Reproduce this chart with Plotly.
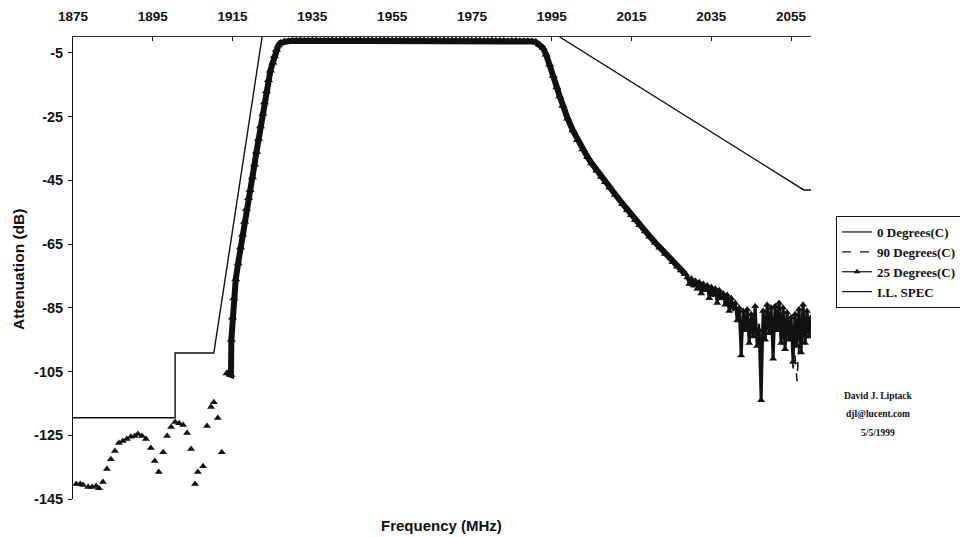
import plotly.graph_objects as go

# ---------------- data ----------------
# x-axis ticks (MHz) and y-axis ticks (dB)
x_ticks = [1875, 1895, 1915, 1935, 1955, 1975, 1995, 2015, 2035, 2055]
y_ticks = [-145, -125, -105, -85, -65, -45, -25, -5]

# I.L. SPEC mask (two segments)
spec_lo_f = [1875.0, 1900.6, 1900.6, 1910.3, 1922.4]
spec_lo_v = [-119.5, -119.5, -99.2, -99.2, 0.0]
spec_hi_f = [1997.0, 2058.2, 2060.0]
spec_hi_v = [0.0, -48.0, -48.0]

# 25 Degrees(C) stop-band points (markers only)
stop_f = [1875.8, 1876.8, 1877.5, 1878.8, 1879.8, 1880.8, 1881.5, 1882.5, 1883.5, 1884.5,
          1885.5, 1886.5, 1887.5, 1888.5, 1889.5, 1890.5, 1891.3, 1892.3, 1893.3, 1894.5,
          1895.5, 1896.5, 1897.6, 1898.6, 1899.6, 1900.6, 1901.6, 1902.6, 1903.6, 1904.6,
          1905.6, 1906.3, 1907.6, 1908.6, 1909.6, 1910.3, 1911.3, 1912.3]
stop_v = [-140.3, -140.3, -140.6, -141.2, -141.2, -140.9, -141.6, -139.7, -135.6, -132.5,
          -129.9, -127.4, -126.8, -126.2, -125.5, -125.2, -124.6, -125.2, -126.2, -129.0,
          -133.1, -136.5, -130.3, -125.2, -122.4, -120.8, -121.2, -121.8, -124.3, -129.3,
          -140.3, -136.5, -134.7, -122.1, -116.1, -114.6, -119.6, -130.3]

# rising edge
rise_f = [1913.6, 1914.6, 1914.7, 1915.0, 1915.3, 1915.8, 1916.4, 1917.0, 1917.5, 1918.0,
          1918.5, 1919.0, 1919.4, 1920.0, 1920.5, 1921.0, 1921.5, 1922.0, 1922.6, 1923.0,
          1923.5, 1924.0, 1924.5, 1925.1, 1925.5, 1926.0, 1926.5, 1927.0, 1928.0]
rise_v = [-105.5, -106.0, -95.0, -88.0, -82.0, -76.0, -71.0, -66.0, -62.0, -58.0,
          -54.0, -50.5, -48.0, -44.0, -40.0, -36.0, -32.0, -28.0, -24.0, -20.5,
          -17.0, -13.5, -10.5, -8.0, -6.0, -4.0, -2.6, -1.9, -1.4]

# pass band (1929 .. 1990 MHz, 1 MHz steps)
pass_f = list(range(1929, 1991))
pass_v = [-1.3, -1.2, -1.2, -1.1, -1.2, -1.2, -1.1, -1.1, -1.2, -1.1,
          -1.1, -1.0, -1.1, -1.1, -1.0, -1.1, -1.1, -1.0, -1.0, -1.1,
          -1.0, -1.0, -1.1, -1.0, -1.0, -1.0, -1.1, -1.0, -1.0, -1.0,
          -1.0, -1.1, -1.0, -1.0, -1.0, -1.1, -1.0, -1.0, -1.1, -1.0,
          -1.1, -1.1, -1.0, -1.1, -1.1, -1.1, -1.2, -1.1, -1.1, -1.2,
          -1.2, -1.1, -1.2, -1.2, -1.2, -1.3, -1.2, -1.2, -1.3, -1.3,
          -1.3, -1.4]

# falling edge
fall_f = [1991.0, 1992.0, 1992.8, 1993.6, 1994.5, 1995.4, 1996.3, 1997.0, 1997.8, 1999.0,
          2000.3, 2001.5, 2002.8, 2004.0, 2005.0, 2006.3, 2007.5, 2008.5, 2009.6, 2011.0,
          2012.8, 2014.0, 2015.0, 2016.0, 2017.1, 2018.5, 2019.6, 2021.0, 2022.1, 2023.5,
          2025.4, 2026.5, 2027.5, 2028.5]
fall_v = [-1.6, -2.4, -3.4, -5.5, -8.6, -12.2, -15.8, -18.6, -21.6, -25.6,
          -29.3, -32.3, -35.2, -37.7, -39.6, -41.9, -43.9, -45.5, -47.2, -49.5,
          -52.4, -54.3, -55.9, -57.4, -59.0, -61.0, -62.6, -64.6, -66.1, -68.0,
          -70.6, -72.0, -73.2, -74.4]

# noisy tail (2029 .. 2060 MHz, 0.5 MHz steps)
tail_f = [2029.0 + 0.5 * i for i in range(63)]
tail25_v = [-75.5, -77.5, -75.8, -78.0, -76.5, -79.0, -77.0, -80.5, -77.5, -79.5,
            -78.0, -82.0, -78.5, -81.0, -79.0, -83.5, -79.5, -82.0, -80.5, -84.0,
            -81.0, -86.0, -82.0, -85.0, -83.5, -89.0, -85.0, -100.0, -86.0, -92.0,
            -85.5, -96.0, -87.0, -94.0, -84.5, -97.0, -92.0, -114.0, -86.0, -95.0,
            -84.0, -93.0, -85.0, -101.0, -84.5, -92.0, -83.5, -96.0, -85.0, -98.0,
            -86.5, -95.0, -88.0, -102.0, -87.0, -97.0, -85.5, -99.0, -84.0, -96.0,
            -86.0, -94.0, -88.0]
tail0_v = [-76.0, -77.0, -76.5, -78.5, -77.0, -78.5, -77.5, -80.0, -78.0, -79.0,
           -78.5, -81.5, -79.0, -80.5, -79.5, -82.5, -80.0, -82.5, -81.0, -83.5,
           -81.5, -85.0, -82.5, -86.0, -84.0, -88.0, -85.5, -94.0, -86.5, -91.0,
           -86.0, -95.0, -87.5, -93.0, -85.0, -96.0, -90.0, -108.0, -86.5, -94.0,
           -84.5, -92.0, -85.5, -99.0, -85.0, -91.0, -84.0, -95.0, -85.5, -97.0,
           -87.0, -94.0, -88.5, -100.0, -87.5, -96.0, -86.0, -98.0, -84.5, -95.0,
           -86.5, -93.0, -88.5]
tail90_v = [-75.0, -78.0, -76.0, -78.5, -76.5, -79.5, -77.5, -80.0, -78.0, -80.0,
            -78.5, -81.0, -79.0, -81.5, -79.5, -83.0, -80.0, -82.5, -81.0, -84.5,
            -81.5, -85.5, -82.5, -85.5, -83.0, -88.5, -85.5, -97.0, -86.0, -92.5,
            -85.0, -95.5, -87.0, -94.5, -85.0, -97.5, -91.0, -110.0, -86.5, -95.5,
            -84.5, -93.5, -85.5, -100.0, -84.5, -92.5, -84.0, -96.5, -85.5, -98.5,
            -87.0, -95.5, -88.0, -104.0, -100.0, -108.0, -95.0, -99.5, -85.0, -96.5,
            -86.5, -94.5, -88.0]

# ---------------- figure ----------------
main_f = rise_f + pass_f + fall_f
main_v = rise_v + pass_v + fall_v
BLACK = "#111111"

fig = go.Figure()

# I.L. SPEC
fig.add_trace(go.Scatter(x=spec_lo_f + [None] + spec_hi_f, y=spec_lo_v + [None] + spec_hi_v,
                         mode="lines", line=dict(color=BLACK, width=1.4),
                         showlegend=False, hoverinfo="skip"))
# 0 Degrees(C)
fig.add_trace(go.Scatter(x=main_f + tail_f, y=main_v + tail0_v, mode="lines",
                         line=dict(color=BLACK, width=2), showlegend=False))
# 90 Degrees(C)
fig.add_trace(go.Scatter(x=main_f + tail_f, y=main_v + tail90_v, mode="lines",
                         line=dict(color=BLACK, width=1.5, dash="dash"), showlegend=False))
# 25 Degrees(C) - stop band markers
fig.add_trace(go.Scatter(x=stop_f, y=stop_v, mode="markers",
                         marker=dict(symbol="triangle-up", size=7, color=BLACK),
                         showlegend=False))
# 25 Degrees(C) - main curve
fig.add_trace(go.Scatter(x=main_f, y=main_v, mode="lines+markers",
                         line=dict(color=BLACK, width=6),
                         marker=dict(symbol="triangle-up", size=8, color=BLACK),
                         showlegend=False))
# 25 Degrees(C) - noisy tail
fig.add_trace(go.Scatter(x=[main_f[-1]] + tail_f, y=[main_v[-1]] + tail25_v, mode="lines+markers",
                         line=dict(color=BLACK, width=3),
                         marker=dict(symbol="triangle-up", size=7, color=BLACK),
                         showlegend=False))

# legend entries
fig.add_trace(go.Scatter(x=[None], y=[None], mode="lines", name="0 Degrees(C)",
                         line=dict(color=BLACK, width=1.2)))
fig.add_trace(go.Scatter(x=[None], y=[None], mode="lines", name="90 Degrees(C)",
                         line=dict(color=BLACK, width=1.2, dash="dash")))
fig.add_trace(go.Scatter(x=[None], y=[None], mode="lines+markers", name="25 Degrees(C)",
                         line=dict(color=BLACK, width=1.2),
                         marker=dict(symbol="triangle-up", size=6, color=BLACK)))
fig.add_trace(go.Scatter(x=[None], y=[None], mode="lines", name="I.L. SPEC",
                         line=dict(color=BLACK, width=1.2)))

# the page body adds an 8 px offset, so work in (screen - 8) coordinates
OFF = 8
W, H = 968 - OFF, 537 - OFF
L, T = 73 - OFF, 37 - OFF
R = W - (811 - OFF)
B = H - (499 - OFF)
pw, ph = W - L - R, H - T - B


def px(x):
    return (x - OFF - L) / pw


def py(y):
    return (H - B - (y - OFF)) / ph


fig.update_layout(
    width=W, height=H,
    margin=dict(l=L, r=R, t=T, b=B, autoexpand=False),
    paper_bgcolor="white", plot_bgcolor="white",
    font=dict(family="Liberation Sans, Arial, sans-serif", color=BLACK),
    showlegend=True,
    legend=dict(x=px(836), y=py(216), xanchor="left", yanchor="top",
                bgcolor="white", bordercolor=BLACK, borderwidth=1,
                font=dict(family="Liberation Serif, Times New Roman, serif", size=13,
                          color=BLACK, weight="bold"),
                traceorder="normal", itemwidth=30, tracegroupgap=0),
    xaxis=dict(side="top", range=[1875, 2060], tickvals=x_ticks,
               ticktext=[str(v) for v in x_ticks], automargin=False,
               showgrid=False, zeroline=False, showline=True, linecolor="#333333", linewidth=1,
               ticks="inside", ticklen=4, tickcolor=BLACK, ticklabelstandoff=10,
               tickfont=dict(size=13.5, weight="bold", color=BLACK)),
    yaxis=dict(range=[-145, 0], tickvals=y_ticks, ticktext=[str(v) for v in y_ticks],
               automargin=False,
               showgrid=False, zeroline=False, showline=True, linecolor=BLACK, linewidth=1,
               ticks="outside", ticklen=4, tickcolor=BLACK, ticklabelstandoff=2,
               tickfont=dict(size=14.5, weight="bold", color=BLACK)),
)

# axis titles
fig.add_annotation(text="Frequency (MHz)", xref="paper", yref="paper",
                   x=px(441), y=py(525), xanchor="center", yanchor="middle", showarrow=False,
                   font=dict(size=15, weight="bold", color=BLACK))
fig.add_annotation(text="Attenuation (dB)", xref="paper", yref="paper",
                   x=px(18), y=py(270), xanchor="center", yanchor="middle", showarrow=False,
                   textangle=-90, font=dict(size=15.5, weight="bold", color=BLACK))

# author note
for txt, yy in [("David J. Liptack", 396), ("djl@lucent.com", 414), ("5/5/1999", 433)]:
    fig.add_annotation(text=txt, xref="paper", yref="paper",
                       x=px(878), y=py(yy), xanchor="center", yanchor="middle", showarrow=False,
                       font=dict(family="Liberation Serif, Times New Roman, serif", size=9.5,
                                 weight="bold", color=BLACK))

fig.write_html("out.html")
